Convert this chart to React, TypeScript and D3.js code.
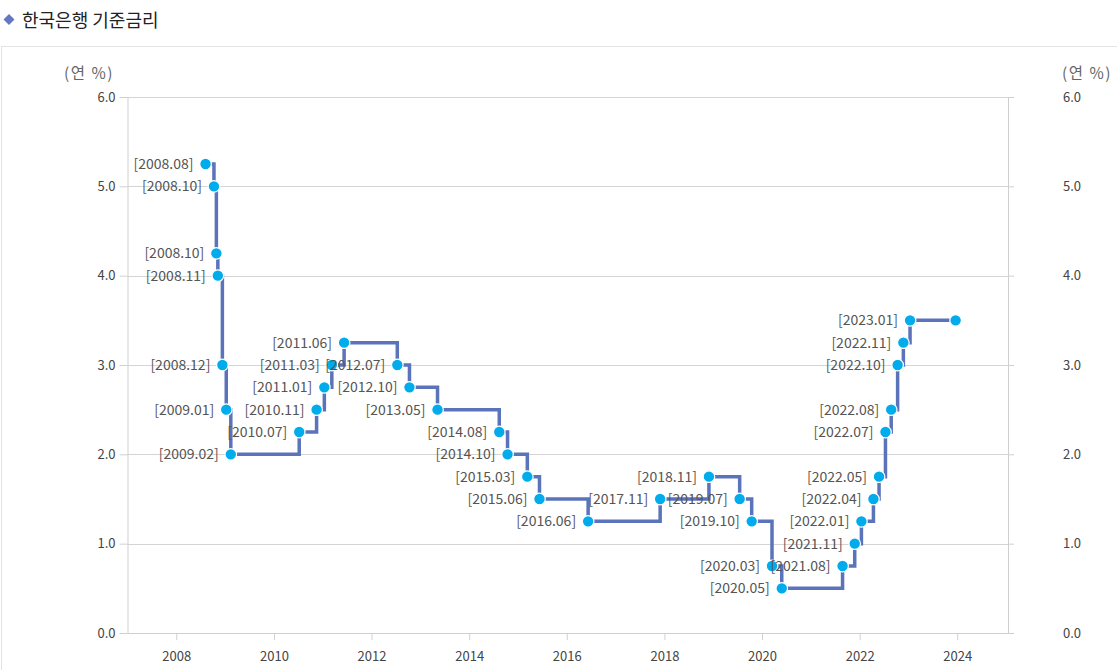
import { useEffect, useRef } from "react";
import * as d3 from "d3";

// announcement dates of the base rate decisions
const dates = [
  "2008-08-07", "2008-10-09", "2008-10-27", "2008-11-07", "2008-12-11",
  "2009-01-09", "2009-02-12", "2010-07-09", "2010-11-16", "2011-01-13",
  "2011-03-10", "2011-06-10", "2012-07-12", "2012-10-11", "2013-05-09",
  "2014-08-14", "2014-10-15", "2015-03-12", "2015-06-11", "2016-06-09",
  "2017-11-30", "2018-11-30", "2019-07-18", "2019-10-16", "2020-03-16",
  "2020-05-28", "2021-08-26", "2021-11-25", "2022-01-14", "2022-04-14",
  "2022-05-26", "2022-07-13", "2022-08-25", "2022-10-12", "2022-11-24",
  "2023-01-13", "2023-12-20",
];

const rates = [
  5.25, 5.0, 4.25, 4.0, 3.0, 2.5, 2.0, 2.25, 2.5, 2.75, 3.0, 3.25, 3.0, 2.75,
  2.5, 2.25, 2.0, 1.75, 1.5, 1.25, 1.5, 1.75, 1.5, 1.25, 0.75, 0.5, 0.75, 1.0,
  1.25, 1.5, 1.75, 2.25, 2.5, 3.0, 3.25, 3.5, 3.5,
];

const labels = [
  "[2008.08]", "[2008.10]", "[2008.10]", "[2008.11]", "[2008.12]",
  "[2009.01]", "[2009.02]", "[2010.07]", "[2010.11]", "[2011.01]",
  "[2011.03]", "[2011.06]", "[2012.07]", "[2012.10]", "[2013.05]",
  "[2014.08]", "[2014.10]", "[2015.03]", "[2015.06]", "[2016.06]",
  "[2017.11]", "[2018.11]", "[2019.07]", "[2019.10]", "[2020.03]",
  "[2020.05]", "[2021.08]", "[2021.11]", "[2022.01]", "[2022.04]",
  "[2022.05]", "[2022.07]", "[2022.08]", "[2022.10]", "[2022.11]",
  "[2023.01]", "",
];

const yTicks = [0, 1, 2, 3, 4, 5, 6];
const xTickYears = [2008, 2010, 2012, 2014, 2016, 2018, 2020, 2022, 2024];

const FONT = "'Noto Sans CJK KR', 'Noto Sans', sans-serif";

export default function App() {
  const svgRef = useRef<SVGSVGElement>(null);

  useEffect(() => {
    if (!svgRef.current) return;
    const svg = d3.select(svgRef.current);
    svg.selectAll("*").remove();

    const W = 1117;
    const H = 670;
    const left = 127.5;
    const right = 1008;
    const top = 97;
    const bottom = 633;

    const parse = d3.timeParse("%Y-%m-%d");
    const data = dates.map((d, i) => ({
      date: parse(d) as Date,
      rate: rates[i],
      label: labels[i],
    }));

    const x = d3
      .scaleTime()
      .domain([new Date(2007, 0, 1), new Date(2025, 0, 15)])
      .range([left, right]);
    const y = d3.scaleLinear().domain([0, 6]).range([bottom, top]);

    svg.attr("width", W).attr("height", H).attr("viewBox", `0 0 ${W} ${H}`);

    // title bar
    svg
      .append("path")
      .attr("d", "M9,14 L14.5,19.5 L9,25 L3.5,19.5 Z")
      .attr("fill", "#6478c2");
    svg
      .append("text")
      .attr("x", 22)
      .attr("y", 27)
      .attr("font-family", FONT)
      .attr("font-size", 18)
      .attr("fill", "#222")
      .text("한국은행 기준금리");

    // panel border
    svg
      .append("rect")
      .attr("x", 1.5)
      .attr("y", 46.5)
      .attr("width", W + 10)
      .attr("height", H)
      .attr("fill", "none")
      .attr("stroke", "#e3e3e3");

    // unit labels
    [89, 1087].forEach((cx) => {
      svg
        .append("text")
        .attr("x", cx)
        .attr("y", 79)
        .attr("text-anchor", "middle")
        .attr("font-family", FONT)
        .attr("font-size", 15.5)
        .attr("letter-spacing", 1.5)
        .attr("fill", "#666")
        .text("(연 %)");
    });

    // gridlines
    svg
      .append("g")
      .selectAll("line")
      .data(yTicks.filter((t) => t > 0))
      .join("line")
      .attr("x1", left)
      .attr("x2", right)
      .attr("y1", (d) => Math.round(y(d)) + 0.5)
      .attr("y2", (d) => Math.round(y(d)) + 0.5)
      .attr("stroke", "#d4d4d4");

    // left axis
    const gl = svg.append("g").attr("transform", `translate(${left},0)`);
    gl.call(
      d3
        .axisLeft(y)
        .tickValues(yTicks)
        .tickFormat(d3.format(".1f"))
        .tickSize(8)
        .tickPadding(4)
    );
    // right axis
    const gr = svg.append("g").attr("transform", `translate(${right},0)`);
    gr.call(
      d3
        .axisRight(y)
        .tickValues(yTicks)
        .tickFormat(d3.format(".1f"))
        .tickSize(6)
        .tickPadding(49)
    );
    // bottom axis
    const gb = svg.append("g").attr("transform", `translate(0,${bottom})`);
    gb.call(
      d3
        .axisBottom(x)
        .tickValues(xTickYears.map((yr) => new Date(yr, 0, 1)))
        .tickFormat(d3.timeFormat("%Y"))
        .tickSize(7)
        .tickPadding(12)
    );
    gb.select(".domain").attr("d", `M${left},0.5H${right + 5}`);

    [gl, gr, gb].forEach((g) => {
      g.select(".domain").attr("stroke", "#cfcfcf");
      g.selectAll(".tick line").attr("stroke", "#d0d0d0");
      g.selectAll("text")
        .attr("fill", "#444")
        .attr("font-family", FONT)
        .attr("font-size", 13);
    });
    gl.select(".domain").attr("d", `M0.5,${top}V${bottom}`);
    gr.select(".domain").attr("d", `M0.5,${top}V${bottom}`);
    gr.selectAll("text").attr("text-anchor", "start");
    gr.selectAll(".tick text").attr("x", 55);

    // step line
    const line = d3
      .line<{ date: Date; rate: number }>()
      .x((d) => x(d.date))
      .y((d) => y(d.rate))
      .curve(d3.curveStepAfter);

    svg
      .append("path")
      .datum(data)
      .attr("fill", "none")
      .attr("stroke", "#5b73ba")
      .attr("stroke-width", 3.5)
      .attr("d", line);

    // points
    svg
      .append("g")
      .selectAll("circle")
      .data(data)
      .join("circle")
      .attr("cx", (d) => x(d.date))
      .attr("cy", (d) => y(d.rate))
      .attr("r", 5.8)
      .attr("fill", "#00acec")
      .attr("stroke", "#fff")
      .attr("stroke-width", 1.2);

    // labels
    svg
      .append("g")
      .selectAll("text")
      .data(data.filter((d) => d.label))
      .join("text")
      .attr("x", (d) => x(d.date) - 12)
      .attr("y", (d) => y(d.rate))
      .attr("dy", "0.35em")
      .attr("text-anchor", "end")
      .attr("font-family", FONT)
      .attr("font-size", 14)
      .attr("fill", "#555")
      .text((d) => d.label);
  }, []);

  return (
    <div style={{ position: "absolute", left: 0, top: 0, width: 1117, height: 670, background: "#fff" }}>
      <svg ref={svgRef} style={{ display: "block" }} />
    </div>
  );
}
